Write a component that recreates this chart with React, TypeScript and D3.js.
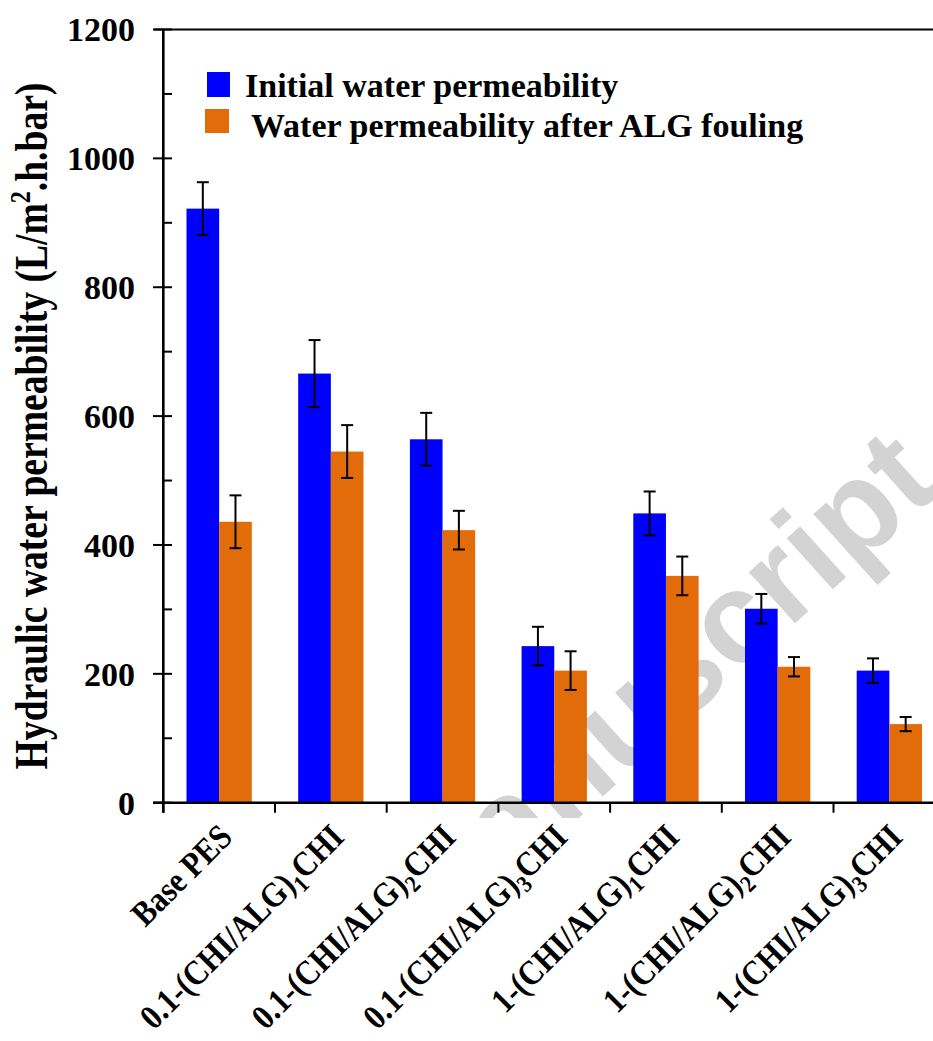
import React from "react";
import * as d3 from "d3";

// ---- data ----
const categories = [
  "Base PES",
  "0.1-(CHI/ALG)_1CHI",
  "0.1-(CHI/ALG)_2CHI",
  "0.1-(CHI/ALG)_3CHI",
  "1-(CHI/ALG)_1CHI",
  "1-(CHI/ALG)_2CHI",
  "1-(CHI/ALG)_3CHI",
];
const seriesNames = ["Initial water permeability", "Water permeability after ALG fouling"];
const initialValues = [922, 666, 564, 243, 449, 301, 205];
const initialErrors = [41, 52, 41, 30, 34, 23, 19];
const fouledValues = [436, 545, 423, 205, 352, 211, 122];
const fouledErrors = [41, 41, 30, 30, 30, 15, 11];
const yTicks = [0, 200, 400, 600, 800, 1000, 1200];
const yMinorTicks = [100, 300, 500, 700, 900, 1100];

const W = 933;
const H = 1041;
const COLORS = ["#0000ff", "#e36c0a"];
const SERIF = "'Liberation Serif', 'Times New Roman', Times, serif";
const SANS = "'Liberation Sans', Arial, Helvetica, sans-serif";

function parseLabel(s: string) {
  const i = s.indexOf("_");
  if (i < 0) return { main: s, sub: "", tail: "" };
  return { main: s.slice(0, i), sub: s.slice(i + 1, i + 2), tail: s.slice(i + 2) };
}

export default function App() {
  const x0 = 163.3;
  const bandW = 111.7;
  const x = d3
    .scaleBand<string>()
    .domain(categories)
    .range([x0, x0 + bandW * categories.length])
    .paddingInner(0)
    .paddingOuter(0);
  const xs = d3
    .scaleBand<string>()
    .domain(["initial", "fouled"])
    .range([0, x.bandwidth()])
    .paddingInner(0)
    .paddingOuter(0.71);
  const y = d3.scaleLinear().domain([0, 1200]).range([802.7, 29.5]);

  const series = [
    { key: "initial", values: initialValues, errors: initialErrors, color: COLORS[0] },
    { key: "fouled", values: fouledValues, errors: fouledErrors, color: COLORS[1] },
  ];

  const axisRight = x0 + bandW * categories.length;
  const capHalf = 6;

  return (
    <svg
      width={W}
      height={H}
      viewBox={`0 0 ${W} ${H}`}
      style={{ position: "absolute", left: 0, top: 0, background: "#fff" }}
    >
      <rect x={0} y={0} width={W} height={H} fill="#fff" />
      <defs>
        <clipPath id="wmclip">
          <rect x={0} y={0} width={W} height={818} />
        </clipPath>
      </defs>
      {/* watermark */}
      <g clipPath="url(#wmclip)">
        <text
          transform="translate(944,489) rotate(-42)"
          textAnchor="end"
          fontFamily={SANS}
          fontWeight="bold"
          fontSize={130}
          fill="#d3d3d3"
        >
          Accepted Manuscript
        </text>
      </g>

      {/* bars */}
      {series.map((s) => (
        <g key={s.key}>
          {categories.map((c, i) => (
            <rect
              key={c}
              x={(x(c) as number) + (xs(s.key) as number)}
              y={y(s.values[i])}
              width={xs.bandwidth()}
              height={y(0) - y(s.values[i])}
              fill={s.color}
            />
          ))}
        </g>
      ))}

      {/* error bars */}
      {series.map((s) => (
        <g key={s.key + "err"} stroke="#000" strokeWidth={2}>
          {categories.map((c, i) => {
            const cx = (x(c) as number) + (xs(s.key) as number) + xs.bandwidth() / 2;
            const yt = y(s.values[i] + s.errors[i]);
            const yb = y(s.values[i] - s.errors[i]);
            return (
              <g key={c}>
                <line x1={cx} x2={cx} y1={yt} y2={yb} />
                <line x1={cx - capHalf} x2={cx + capHalf} y1={yt} y2={yt} />
                <line x1={cx - capHalf} x2={cx + capHalf} y1={yb} y2={yb} />
              </g>
            );
          })}
        </g>
      ))}

      {/* axes */}
      <g stroke="#000" fill="none">
        <line x1={x0} x2={x0} y1={y(1200)} y2={y(0) + 10} strokeWidth={2.6} />
        <line x1={153} x2={axisRight} y1={y(0)} y2={y(0)} strokeWidth={2.6} />
        <line x1={154} x2={axisRight} y1={y(1200)} y2={y(1200)} strokeWidth={2} />
        {yTicks.map((t) => (
          <line key={t} x1={153} x2={172} y1={y(t)} y2={y(t)} strokeWidth={2} />
        ))}
        {yMinorTicks.map((t) => (
          <line key={t} x1={x0} x2={172} y1={y(t)} y2={y(t)} strokeWidth={2} />
        ))}
        {categories.map((c) => (
          <line
            key={c}
            x1={x(c) as number}
            x2={x(c) as number}
            y1={y(0)}
            y2={y(0) + 10}
            strokeWidth={2}
          />
        ))}
      </g>

      {/* y tick labels */}
      <g fontFamily={SERIF} fontWeight="bold" fontSize={34} fill="#000">
        {yTicks.map((t) => (
          <text key={t} x={135} y={y(t)} dy="0.35em" textAnchor="end">
            {t}
          </text>
        ))}
      </g>

      {/* y axis title */}
      <text
        transform="translate(47,426) rotate(-90) scale(0.8,1)"
        textAnchor="middle"
        fontFamily={SERIF}
        fontWeight="bold"
        fontSize={47}
        fill="#000"
      >
        Hydraulic water permeability (L/m
        <tspan fontSize={30} dy={-17}>2</tspan>
        <tspan dy={17}>.h.bar)</tspan>
      </text>

      {/* x labels */}
      <g fontFamily={SERIF} fontWeight="bold" fontSize={35} fill="#000">
        {categories.map((c) => {
          const p = parseLabel(c);
          const cx = (x(c) as number) + x.bandwidth() / 2;
          return (
            <text
              key={c}
              transform={`translate(${cx + 15},839) rotate(-45) scale(0.88,1)`}
              textAnchor="end"
            >
              {p.main}
              {p.sub && (
                <tspan fontSize={24} dy={8}>
                  {p.sub}
                </tspan>
              )}
              {p.sub && <tspan dy={-8}>{p.tail}</tspan>}
            </text>
          );
        })}
      </g>

      {/* legend */}
      <g fontFamily={SERIF} fontWeight="bold" fontSize={34} fill="#000">
        <rect x={207} y={72} width={23} height={25} fill={COLORS[0]} />
        <text x={245} y={97}>{seriesNames[0]}</text>
        <rect x={205} y={109} width={24} height={24} fill={COLORS[1]} />
        <text x={251} y={137}>{seriesNames[1]}</text>
      </g>
    </svg>
  );
}
